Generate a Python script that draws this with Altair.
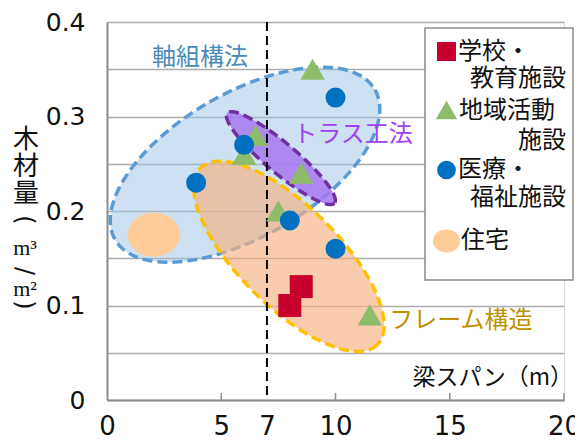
import altair as alt
import pandas as pd
import numpy as np

# ---------------- data ----------------
school_x = [8.5, 8.0]
school_y = [0.12, 0.10]
community_x = [9.0, 6.5, 6.0, 8.5, 7.5, 11.5]
community_y = [0.35, 0.28, 0.26, 0.24, 0.20, 0.09]
medical_x = [10.0, 6.0, 3.9, 8.0, 10.0]
medical_y = [0.32, 0.27, 0.23, 0.19, 0.16]
housing_x = [2.05]
housing_y = [0.175]

x_ticks = [0, 5, 7, 10, 15, 20]
x_minor_ticks = [5, 10, 15, 20]
y_grid_ticks = [0, 0.05, 0.1, 0.15, 0.2, 0.25, 0.3, 0.35, 0.4]
span_line = [7]

group_names = ["軸組構法", "トラス工法", "フレーム構造"]
group_cx = [6.04, 7.61, 7.96]
group_cy = [0.249, 0.256, 0.152]
label_x = [4.07, 10.77, 15.49]
label_y = [0.362, 0.280, 0.0836]

legend_left = ["学校・", "地域活動", "医療・", "住宅"]
legend_right = ["教育施設", "施設", "福祉施設"]

W, H = 457, 378
FONT = "Noto Sans CJK JP"


def ellipse_path(ratio, angle_deg, n=120):
    t = np.linspace(0, 2 * np.pi, n, endpoint=False)
    ex, ey = np.cos(t), ratio * np.sin(t)
    a = np.radians(angle_deg)
    px = ex * np.cos(a) - ey * np.sin(a)
    py = ex * np.sin(a) + ey * np.cos(a)
    return "M " + " L ".join(f"{x:.4f} {y:.4f}" for x, y in zip(px, py)) + " Z"


xs = alt.Scale(domain=[0, 20], nice=False, zero=False)
ys = alt.Scale(domain=[0, 0.4], nice=False, zero=False)

# base axes (labels + gridlines)
axes = alt.Chart(pd.DataFrame({"x": [0, 20], "y": [0, 0.4]})).mark_point(opacity=0).encode(
    x=alt.X("x:Q", scale=xs, axis=alt.Axis(
        values=x_ticks, title=None, grid=False, ticks=False, tickSize=0,
        domainColor="#8c8c8c", domainWidth=2, labelFont="DejaVu Sans",
        labelFontSize=26, labelColor="#111", labelPadding=13, labelFlush=False)),
    y=alt.Y("y:Q", scale=ys, axis=alt.Axis(
        values=y_grid_ticks, title=None, grid=True, gridColor="#ababab", gridWidth=1.5,
        ticks=False, tickSize=0,
        labelExpr="(round(datum.value * 100) % 10 == 0) ? (datum.value < 0.001 ? '0' : format(datum.value, '.1f')) : ''",
        domainColor="#8c8c8c", domainWidth=2, labelFont="DejaVu Sans",
        labelFontSize=25, labelColor="#111", labelPadding=22, labelFlush=False)),
)

inner_ticks = alt.Chart(pd.DataFrame({"x": x_minor_ticks})).mark_rule(
    color="#8c8c8c", strokeWidth=1.5
).encode(x=alt.X("x:Q", scale=xs), y=alt.value(H), y2=alt.value(H - 7))


def ellipse_layer(i, a_px, b_px, angle, fill, fill_op, stroke):
    df = pd.DataFrame({"x": [group_cx[i]], "y": [group_cy[i]]})
    return alt.Chart(df).mark_point(
        shape=ellipse_path(b_px / a_px, angle), size=(2 * a_px) ** 2,
        fill=fill, fillOpacity=fill_op, stroke=stroke, strokeWidth=3.5,
        strokeDash=[10, 5], opacity=1, filled=False
    ).encode(x=alt.X("x:Q", scale=xs), y=alt.Y("y:Q", scale=ys))


blue_ell = ellipse_layer(0, 150, 72, -30, "#9dc3e6", 0.5, "#5b9bd5")
orange_ell = ellipse_layer(2, 125, 50, 45, "#f4b183", 0.66, "#ffc000")
purple_ell = ellipse_layer(1, 70, 15, 40, "#a678f0", 0.85, "#7030a0")

vline = alt.Chart(pd.DataFrame({"x": span_line})).mark_rule(
    color="black", strokeWidth=2, strokeDash=[9, 5]
).encode(x=alt.X("x:Q", scale=xs))

housing = alt.Chart(pd.DataFrame({"x": housing_x, "y": housing_y})).mark_point(
    shape=ellipse_path(44 / 52, 0), size=52 ** 2, filled=True, color="#ffcc99", opacity=1
).encode(x=alt.X("x:Q", scale=xs), y=alt.Y("y:Q", scale=ys))

school = alt.Chart(pd.DataFrame({"x": school_x, "y": school_y})).mark_square(
    size=529, color="#c8002d", opacity=1
).encode(x=alt.X("x:Q", scale=xs), y=alt.Y("y:Q", scale=ys))

community = alt.Chart(pd.DataFrame({"x": community_x, "y": community_y})).mark_point(
    shape="triangle-up", size=600, filled=True, color="#8fbc6b", opacity=1
).encode(x=alt.X("x:Q", scale=xs), y=alt.Y("y:Q", scale=ys))

medical = alt.Chart(pd.DataFrame({"x": medical_x, "y": medical_y})).mark_circle(
    size=400, color="#0070c0", opacity=1
).encode(x=alt.X("x:Q", scale=xs), y=alt.Y("y:Q", scale=ys))

lab_df = pd.DataFrame({"t": group_names, "x": label_x, "y": label_y,
                       "c": ["#4a8ab9", "#a040f0", "#c09000"]})
labels = alt.Chart(lab_df).mark_text(
    font=FONT, fontSize=24, align="center", baseline="middle"
).encode(x=alt.X("x:Q", scale=xs), y=alt.Y("y:Q", scale=ys), text="t:N",
         color=alt.Color("c:N", scale=None))

# x axis title
xtitle = alt.Chart(pd.DataFrame({"t": ["梁スパン（m）"]})).mark_text(
    font=FONT, fontSize=23, align="right", baseline="middle", color="#111"
).encode(x=alt.value(466), y=alt.value(356), text="t:N")

# y axis title (vertical)
yt_df = pd.DataFrame({"t": ["木", "材", "量"], "py": [118, 145, 172]})
ytitle = alt.Chart(yt_df).mark_text(
    font=FONT, fontSize=26, align="center", baseline="middle", color="#111"
).encode(x=alt.value(-81), y=alt.Y("py:Q", scale=None), text="t:N")
yr_df = pd.DataFrame({"t": ["(", "/", ")"], "py": [198, 249, 283]})
ytitle_rot = alt.Chart(yr_df).mark_text(
    font="DejaVu Sans", fontSize=24, angle=90, align="center", baseline="middle",
    color="#111"
).encode(x=alt.value(-83), y=alt.Y("py:Q", scale=None), text="t:N")
ym_df = pd.DataFrame({"t": ["m³", "m²"], "py": [226, 267]})
ytitle_m = alt.Chart(ym_df).mark_text(
    font="Liberation Serif", fontSize=22, align="center", baseline="middle", color="#111"
).encode(x=alt.value(-82), y=alt.Y("py:Q", scale=None), text="t:N")

# legend
leg_box = alt.Chart(pd.DataFrame({"a": [0]})).mark_rect(
    fill="white", stroke="#8c8c8c", strokeWidth=1.5
).encode(x=alt.value(318), x2=alt.value(466), y=alt.value(6), y2=alt.value(258))
leg_sq = alt.Chart(pd.DataFrame({"a": [0]})).mark_square(
    size=361, color="#c8002d", opacity=1).encode(x=alt.value(339.5), y=alt.value(29.5))
leg_tri = alt.Chart(pd.DataFrame({"a": [0]})).mark_point(
    shape="triangle-up", size=460, filled=True, color="#8fbc6b", opacity=1
).encode(x=alt.value(339.5), y=alt.value(88))
leg_circ = alt.Chart(pd.DataFrame({"a": [0]})).mark_circle(
    size=350, color="#0070c0", opacity=1).encode(x=alt.value(339.5), y=alt.value(148))
leg_house = alt.Chart(pd.DataFrame({"a": [0]})).mark_point(
    shape=ellipse_path(23 / 27, 0), size=27 ** 2, filled=True, color="#ffcc99", opacity=1
).encode(x=alt.value(339.5), y=alt.value(219))

ll_df = pd.DataFrame({"t": legend_left, "px": [351, 352, 351, 354], "py": [30, 89, 148, 219]})
lr_df = pd.DataFrame({"t": legend_right, "px": [459, 459, 459], "py": [57, 119, 176]})
leg_l = alt.Chart(ll_df).mark_text(
    font=FONT, fontSize=24, align="left", baseline="middle", color="#111"
).encode(x=alt.X("px:Q", scale=None), y=alt.Y("py:Q", scale=None), text="t:N")
leg_r = alt.Chart(lr_df).mark_text(
    font=FONT, fontSize=24, align="right", baseline="middle", color="#111"
).encode(x=alt.X("px:Q", scale=None), y=alt.Y("py:Q", scale=None), text="t:N")

chart = alt.layer(
    axes, inner_ticks, blue_ell, orange_ell, purple_ell, vline,
    housing, school, community, medical, labels, xtitle, ytitle, ytitle_rot, ytitle_m,
    leg_box, leg_sq, leg_tri, leg_circ, leg_house, leg_l, leg_r
).properties(
    width=W, height=H,
    autosize=alt.AutoSizeParams(type="none"),
    padding={"left": 99, "top": 14, "right": 11, "bottom": 40},
).configure_view(stroke=None).configure(background="white")

chart.save("out.html", embed_options={"renderer": "svg", "actions": False})
